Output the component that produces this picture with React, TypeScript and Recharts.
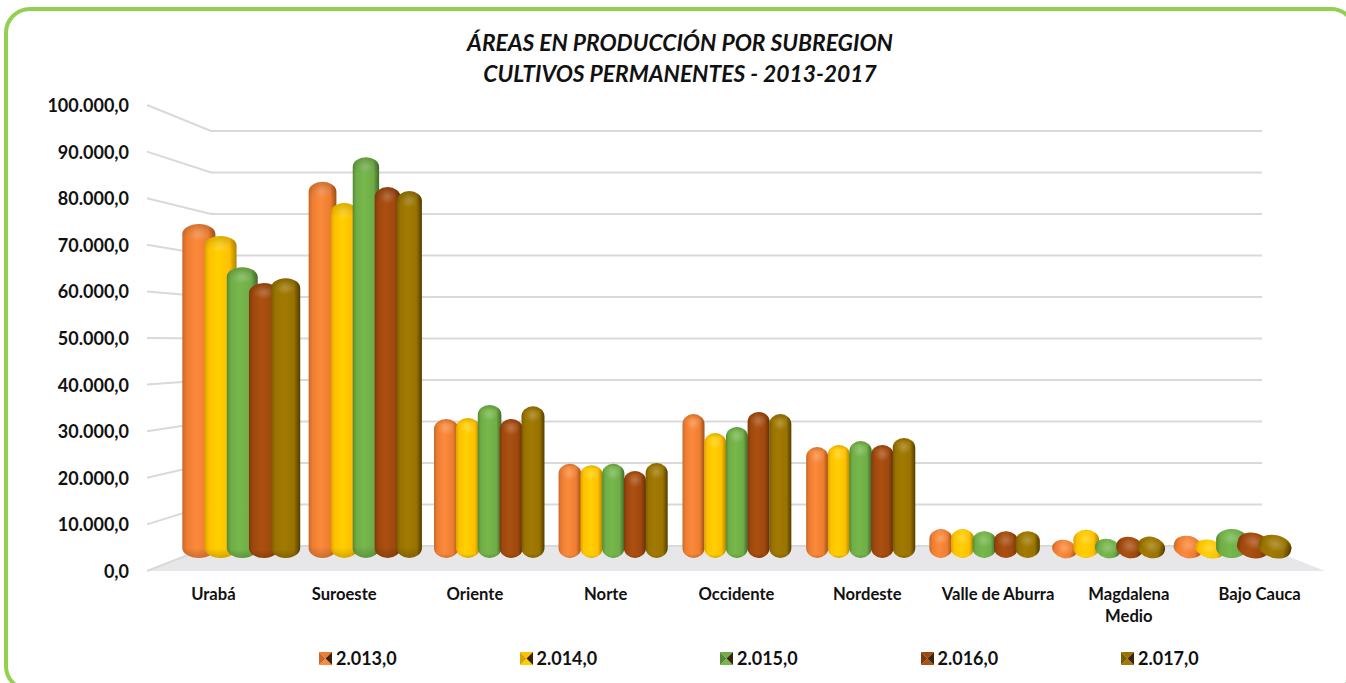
import { BarChart, Bar, XAxis, YAxis, Legend, ReferenceLine } from 'recharts'

const regions = ['Urabá', 'Suroeste', 'Oriente', 'Norte', 'Occidente', 'Nordeste', 'Valle de Aburra', 'Magdalena\nMedio', 'Bajo Cauca']
const years = ['2.013,0', '2.014,0', '2.015,0', '2.016,0', '2.017,0']

const y2013 = [75900, 85500, 31600, 21400, 32700, 25200, 6600, 4100, 5000]
const y2014 = [73200, 80700, 31800, 21100, 28400, 25700, 6600, 6400, 4100]
const y2015 = [66100, 91100, 34800, 21400, 29800, 26600, 6100, 4300, 6600]
const y2016 = [62500, 84300, 31600, 19800, 33200, 25700, 6100, 4800, 5700]
const y2017 = [63600, 83400, 34500, 21600, 32700, 27300, 6100, 4800, 5200]
const series = [y2013, y2014, y2015, y2016, y2017]

const gridTicks = [0, 10000, 20000, 30000, 40000, 50000, 60000, 70000, 80000, 90000, 100000]

// edge, highlight, base, dark edge for each year
const palette = [
  ['#c9682a', '#fb8a3c', '#ed7d31', '#a04e1a'],
  ['#d9a300', '#ffd000', '#ffc000', '#ae8400'],
  ['#558a34', '#76b84c', '#70ad47', '#3e6a27'],
  ['#7e390b', '#ab5011', '#9e480e', '#662d08'],
  ['#7a5c00', '#a27a03', '#997300', '#523d00'],
]

const data = regions.map((name, i) => {
  const row: Record<string, string | number> = { name }
  years.forEach((y, s) => { row[y] = series[s][i] })
  return row
})

const formatValue = (v: number) =>
  v.toLocaleString('de-DE', { minimumFractionDigits: 1, maximumFractionDigits: 1 })

// projection of the fake 3D box
const backLeft = 211
const backRight = 1262
const backY = (frontY: number) => 546 - (571 - frontY) * (415 / 466)

function WallLine(props: any) {
  const { x1, y1 } = props
  const by = backY(y1)
  return (
    <polyline
      points={`${x1 - 1},${y1} ${backLeft},${by} ${backRight},${by}`}
      fill="none"
      stroke="#d9d9d9"
      strokeWidth={2}
    />
  )
}

function Floor(props: any) {
  const { x1, x2, y1 } = props
  const by = backY(y1)
  return <polygon points={`${x1},${y1} ${backLeft},${by} ${backRight},${by} ${x2},${y1}`} fill="#e7e7e9" />
}

function Capsule(props: any) {
  const { x, y, width, height, fill } = props
  const cx = x + width / 2
  const d = Math.abs(cx - 737) / 495
  const w = 22 + 9 * Math.pow(d, 2.5)
  const left = cx - w / 2
  const ry = Math.min(10, height / 2)
  const tilt = height < 26 ? `rotate(14 ${cx} ${y + height / 2})` : undefined
  return (
    <g transform={tilt}>
      <rect x={left} y={y} width={w} height={height} rx={w / 2} ry={ry} fill={fill} />
      <ellipse cx={cx} cy={y + ry * 0.9} rx={w * 0.36} ry={ry * 0.75} fill="url(#capGlow)" />
      <rect x={left} y={y} width={w} height={height} rx={w / 2} ry={ry} fill="url(#capShade)" />
    </g>
  )
}

function RegionTick(props: any) {
  const { x, y, payload } = props
  const lines = String(payload.value).split('\n')
  return (
    <text x={x} y={y - 24} textAnchor="middle" fontFamily="Lato" fontWeight={700} fontSize={16.6} fill="#111">
      {lines.map((l, i) => (
        <tspan key={l} x={x} dy={i === 0 ? 15 : 22}>{l}</tspan>
      ))}
    </text>
  )
}

function ValueTick(props: any) {
  const { y, payload } = props
  return (
    <text x={129} y={y + 7} textAnchor="end" fontFamily="Lato" fontWeight={700} fontSize={18} fill="#111">
      {formatValue(payload.value)}
    </text>
  )
}

function Swatch({ colors }: { colors: string[] }) {
  return (
    <svg width={13} height={13} style={{ display: 'block' }}>
      <polygon points="0,0 13,0 6.5,6.5" fill={colors[2]} />
      <polygon points="0,13 13,13 6.5,6.5" fill={colors[1]} />
      <polygon points="0,0 0,13 6.5,6.5" fill={colors[0]} />
      <polygon points="13,0 13,13 6.5,6.5" fill="#3b2208" />
    </svg>
  )
}

function YearLegend() {
  return (
    <div style={{ position: 'relative', height: 24, fontFamily: 'Lato', fontWeight: 700, fontSize: 18, color: '#111' }}>
      {years.map((y, i) => (
        <div key={y} style={{ position: 'absolute', left: 319 + i * 200.5, top: 0, display: 'flex', alignItems: 'center', gap: 4, lineHeight: '24px' }}>
          <Swatch colors={palette[i]} />
          <span>{y}</span>
        </div>
      ))}
    </div>
  )
}

const Nothing = () => null

export default function App() {
  return (
    <div style={{ position: 'absolute', left: 0, top: 0, width: 1346, height: 683, overflow: 'hidden', background: '#fff' }}>
      <div style={{ position: 'absolute', left: 4, top: 7, width: 1345, height: 677, border: '4.5px solid #92d050', borderRadius: 26 }} />
      <div style={{ position: 'absolute', left: 0, top: 27, width: 1360, textAlign: 'center', fontFamily: 'Lato', fontWeight: 700, fontStyle: 'italic', fontSize: 22.8, lineHeight: '31px', color: '#111' }}>
        ÁREAS EN PRODUCCIÓN POR SUBREGION<br />CULTIVOS PERMANENTES - 2013-2017
      </div>
      <BarChart
        width={1346}
        height={683}
        data={data}
        margin={{ top: 105, right: 21, bottom: 0, left: 0 }}
        barSize={21.7}
        barGap={0}
        style={{ position: 'absolute', left: 0, top: 0 }}
      >
        <defs>
          {palette.map((c, i) => (
            <linearGradient key={i} id={`barFill${i}`} x1="0" y1="0" x2="1" y2="0">
              <stop offset="0" stopColor={c[0]} />
              <stop offset="0.14" stopColor={c[2]} />
              <stop offset="0.42" stopColor={c[1]} />
              <stop offset="0.78" stopColor={c[2]} />
              <stop offset="1" stopColor={c[3]} />
            </linearGradient>
          ))}
          <linearGradient id="capShade" x1="0" y1="0" x2="0" y2="1">
            <stop offset="0" stopColor="#000" stopOpacity={0.14} />
            <stop offset="0.04" stopColor="#000" stopOpacity={0} />
            <stop offset="0.97" stopColor="#000" stopOpacity={0} />
            <stop offset="1" stopColor="#000" stopOpacity={0.18} />
          </linearGradient>
          <radialGradient id="capGlow">
            <stop offset="0" stopColor="#fff" stopOpacity={0.22} />
            <stop offset="1" stopColor="#fff" stopOpacity={0} />
          </radialGradient>
        </defs>
        <XAxis
          xAxisId="labels"
          dataKey="name"
          height={112}
          axisLine={false}
          tickLine={false}
          interval={0}
          tick={<RegionTick />}
        />
        <XAxis xAxisId="bars" dataKey="name" hide padding={{ left: 32, right: 32 }} />
        <YAxis
          yAxisId="front"
          width={148}
          domain={[0, 100000]}
          allowDataOverflow
          ticks={gridTicks}
          interval={0}
          axisLine={false}
          tickLine={false}
          tick={<ValueTick />}
        />
        <YAxis yAxisId="bars" hide domain={[-2955, 102955]} allowDataOverflow />
        <ReferenceLine xAxisId="labels" yAxisId="front" y={0} shape={<Floor />} ifOverflow="visible" zIndex={-20} />
        {gridTicks.map(t => (
          <ReferenceLine key={t} xAxisId="labels" yAxisId="front" y={t} shape={<WallLine />} ifOverflow="visible" zIndex={-10} />
        ))}
        <Legend
          layout="horizontal"
          verticalAlign="middle"
          align="center"
          content={<YearLegend />}
          wrapperStyle={{ left: 0, top: 646, width: 1346 }}
        />
        <Bar dataKey={years[0]} xAxisId="labels" yAxisId="front" shape={<Nothing />} legendType="none" isAnimationActive={false} />
        {years.map((y, i) => (
          <Bar
            key={y}
            dataKey={y}
            xAxisId="bars"
            yAxisId="bars"
            fill={`url(#barFill${i})`}
            shape={<Capsule />}
            isAnimationActive={false}
          />
        ))}
      </BarChart>
    </div>
  )
}
